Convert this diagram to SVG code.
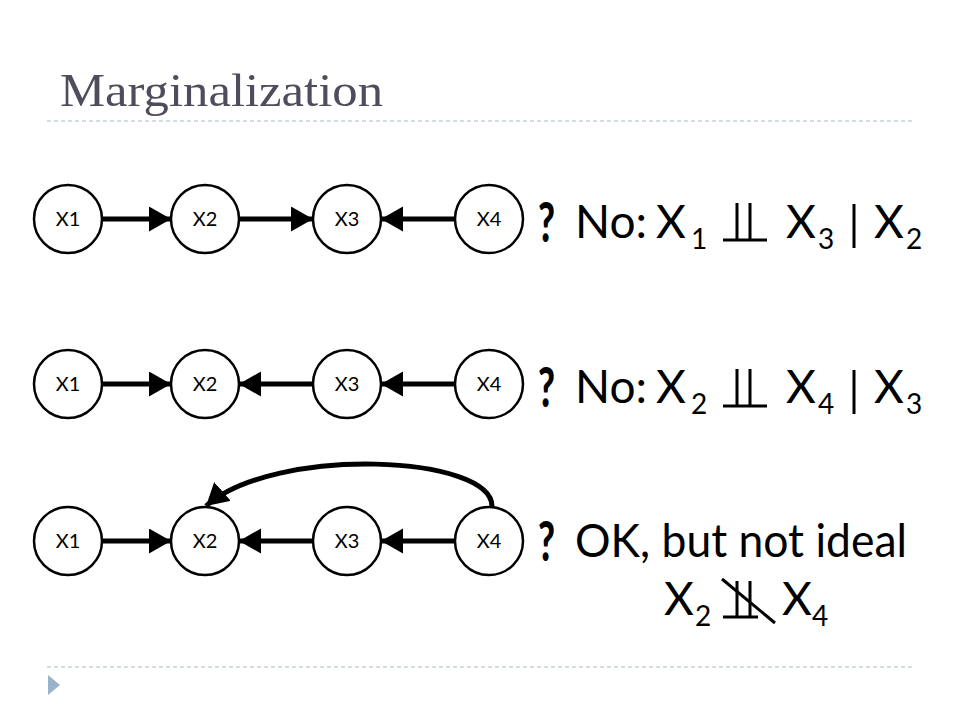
<svg xmlns="http://www.w3.org/2000/svg" width="960" height="720" viewBox="0 0 960 720">
<defs>
<style>
.node circle{fill:#fff;stroke:#000;stroke-width:2.5}
.node text{font-family:Lato,"Open Sans",sans-serif;font-size:20px;text-anchor:middle;fill:#000}
.edge{stroke:#000;stroke-width:5;fill:none;marker-end:url(#ah)}
.big{font-family:Lato,"Open Sans",sans-serif;font-size:46px;fill:#000}
.sub{font-family:Lato,"Open Sans",sans-serif;font-size:28px;fill:#000}
.q{font-family:Lato,"Open Sans",sans-serif;font-size:56px;font-weight:900;fill:#000}
.sym{stroke:#000;stroke-width:3;fill:none}
.dash{stroke:#a9b8c6;stroke-width:1.2;stroke-dasharray:4 3}
</style>
<marker id="ah" markerUnits="userSpaceOnUse" markerWidth="24" markerHeight="26" refX="22" refY="12.5" orient="auto">
<path d="M0,0 L22,12.5 L0,25 Z" fill="#000"/>
</marker>
</defs>
<rect width="960" height="720" fill="#fff"/>
<text x="60" y="106" font-family="'Liberation Serif',serif" font-size="47" fill="#4d4d5c" textLength="323" lengthAdjust="spacingAndGlyphs">Marginalization</text>
<line class="dash" x1="47" y1="121" x2="912" y2="121"/>
<line class="dash" x1="47" y1="667" x2="912" y2="667"/>
<polygon points="48,675 60,685 48,695" fill="#9ab3cc"/>

<g id="connectors">
<line class="edge" x1="102" y1="219" x2="171" y2="219"/>
<line class="edge" x1="239" y1="219" x2="313" y2="219"/>
<line class="edge" x1="455" y1="219" x2="381" y2="219"/>
<line class="edge" x1="102" y1="384" x2="171" y2="384"/>
<line class="edge" x1="313" y1="384" x2="239" y2="384"/>
<line class="edge" x1="455" y1="384" x2="381" y2="384"/>
<line class="edge" x1="102" y1="541" x2="171" y2="541"/>
<line class="edge" x1="313" y1="541" x2="239" y2="541"/>
<line class="edge" x1="455" y1="541" x2="381" y2="541"/>
<path class="edge" d="M492,507 C494,455 275,445 206,506"/>
</g>

<g id="r1x1" class="node"><circle cx="68" cy="219" r="34"/><text x="68" y="226">X1</text></g>
<g id="r1x2" class="node"><circle cx="205" cy="219" r="34"/><text x="205" y="226">X2</text></g>
<g id="r1x3" class="node"><circle cx="347" cy="219" r="34"/><text x="347" y="226">X3</text></g>
<g id="r1x4" class="node"><circle cx="489" cy="219" r="34"/><text x="489" y="226">X4</text></g>

<g id="r2x1" class="node"><circle cx="68" cy="384" r="34"/><text x="68" y="391">X1</text></g>
<g id="r2x2" class="node"><circle cx="205" cy="384" r="34"/><text x="205" y="391">X2</text></g>
<g id="r2x3" class="node"><circle cx="347" cy="384" r="34"/><text x="347" y="391">X3</text></g>
<g id="r2x4" class="node"><circle cx="489" cy="384" r="34"/><text x="489" y="391">X4</text></g>

<g id="r3x1" class="node"><circle cx="68" cy="541" r="34"/><text x="68" y="548">X1</text></g>
<g id="r3x2" class="node"><circle cx="205" cy="541" r="34"/><text x="205" y="548">X2</text></g>
<g id="r3x3" class="node"><circle cx="347" cy="541" r="34"/><text x="347" y="548">X3</text></g>
<g id="r3x4" class="node"><circle cx="489" cy="541" r="34"/><text x="489" y="548">X4</text></g>

<g id="label1">
<text class="q" x="538" y="242" textLength="17" lengthAdjust="spacingAndGlyphs">?</text>
<text class="big" x="575" y="238">No:</text>
<text class="big" x="656" y="238">X</text><text class="sub" x="691" y="249">1</text>
<path class="sym" d="M737,203 V240 M750,203 V240 M723,240 H767"/>
<text class="big" x="786" y="238">X</text><text class="sub" x="818" y="249">3</text>
<line class="sym" x1="854" y1="204" x2="854" y2="248"/>
<text class="big" x="874" y="238">X</text><text class="sub" x="906" y="249">2</text>
</g>

<g id="label2">
<text class="q" x="538" y="407" textLength="17" lengthAdjust="spacingAndGlyphs">?</text>
<text class="big" x="575" y="403">No:</text>
<text class="big" x="656" y="403">X</text><text class="sub" x="691" y="414">2</text>
<path class="sym" d="M737,369 V406 M750,369 V406 M723,406 H767"/>
<text class="big" x="786" y="403">X</text><text class="sub" x="818" y="414">4</text>
<line class="sym" x1="854" y1="370" x2="854" y2="414"/>
<text class="big" x="874" y="403">X</text><text class="sub" x="906" y="414">3</text>
</g>

<g id="label3">
<text class="q" x="538" y="561" textLength="17" lengthAdjust="spacingAndGlyphs">?</text>
<text class="big" x="575" y="557" textLength="332" lengthAdjust="spacingAndGlyphs">OK, but not ideal</text>
<text class="big" x="664" y="615">X</text><text class="sub" x="695" y="626">2</text>
<path class="sym" d="M737,581 V616 M750,581 V616 M723,617 H758"/>
<line class="sym" x1="722" y1="579" x2="775" y2="623"/>
<text class="big" x="782" y="615">X</text><text class="sub" x="812" y="626">4</text>
</g>
</svg>
